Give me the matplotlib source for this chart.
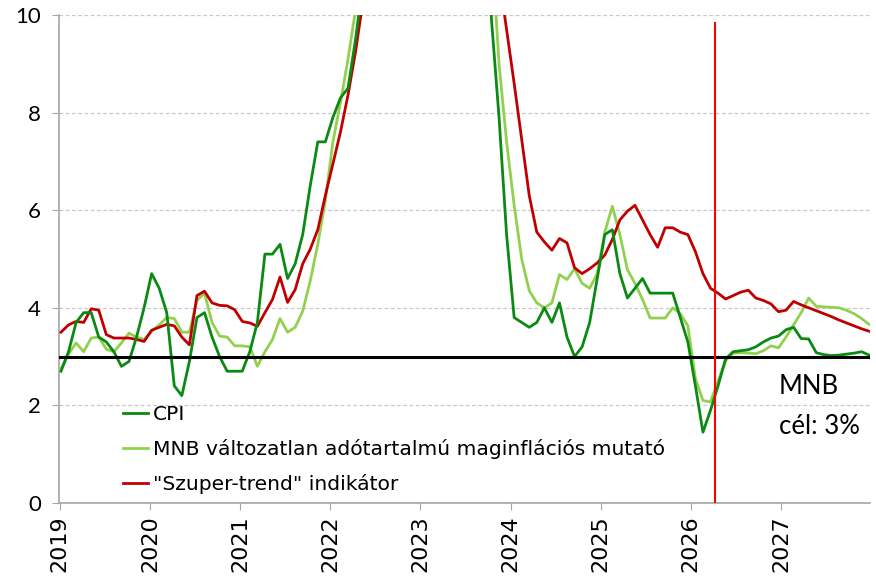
import matplotlib
matplotlib.use("Agg")
import matplotlib.pyplot as plt
import numpy as np

# Monthly data, Jan 2019 - Dec 2027 (yearly rows)
cpi = [
    2.7, 3.1, 3.7, 3.9, 3.9, 3.4, 3.3, 3.1, 2.8, 2.9, 3.4, 4.0,
    4.7, 4.4, 3.9, 2.4, 2.2, 2.9, 3.8, 3.9, 3.4, 3.0, 2.7, 2.7,
    2.7, 3.1, 3.7, 5.1, 5.1, 5.3, 4.6, 4.9, 5.5, 6.5, 7.4, 7.4,
    7.9, 8.3, 8.5, 9.5, 10.7, 11.7, 13.7, 15.6, 20.1, 21.1, 22.5, 24.5,
    25.7, 25.4, 25.2, 24.0, 21.5, 20.1, 17.6, 16.4, 12.2, 9.9, 7.9, 5.5,
    3.8, 3.7, 3.6, 3.7, 4.0, 3.7, 4.1, 3.4, 3.0, 3.2, 3.7, 4.6,
    5.5, 5.6, 4.7, 4.2, 4.4, 4.6, 4.3, 4.3, 4.3, 4.3, 3.8, 3.3,
    2.4, 1.45, 1.9, 2.4, 2.95, 3.1, 3.12, 3.14, 3.2, 3.3, 3.38, 3.42,
    3.55, 3.6, 3.37, 3.36, 3.08, 3.04, 3.02, 3.03, 3.05, 3.07, 3.1, 3.03,
]
core = [
    2.75, 3.05, 3.28, 3.1, 3.38, 3.4, 3.15, 3.1, 3.28, 3.48, 3.4, 3.35,
    3.52, 3.65, 3.8, 3.78, 3.5, 3.5, 4.15, 4.3, 3.7, 3.42, 3.4, 3.22,
    3.22, 3.2, 2.8, 3.1, 3.35, 3.78, 3.5, 3.6, 3.93, 4.55, 5.3, 6.2,
    7.4, 8.2, 9.1, 10.1, 11.2, 12.5, 14.0, 15.5, 17.5, 19.5, 21.5, 23.5,
    25.0, 25.5, 25.3, 24.5, 23.0, 21.5, 19.5, 17.0, 14.0, 11.5, 9.0, 7.4,
    6.1, 5.0, 4.35, 4.1, 4.0, 4.1, 4.68, 4.58, 4.8, 4.5, 4.4, 4.7,
    5.55, 6.08, 5.5, 4.78, 4.5, 4.17, 3.79, 3.79, 3.79, 4.0, 3.88, 3.63,
    2.55, 2.1, 2.07, 2.5, 2.92, 3.07, 3.08, 3.07, 3.06, 3.12, 3.22, 3.18,
    3.4, 3.65, 3.9, 4.2, 4.03, 4.02, 4.01, 4.0, 3.95, 3.88, 3.78, 3.66,
]
supertrend = [
    3.5, 3.65, 3.72, 3.7, 3.98, 3.95, 3.45, 3.38, 3.38, 3.38, 3.35, 3.31,
    3.54, 3.6, 3.66, 3.63, 3.4, 3.24, 4.25, 4.34, 4.1, 4.05, 4.04, 3.96,
    3.72, 3.69, 3.62, 3.9, 4.17, 4.63, 4.11, 4.37, 4.9, 5.2, 5.6, 6.3,
    6.95, 7.6, 8.36, 9.25, 10.3, 11.3, 12.4, 13.6, 14.8, 16.0, 17.2, 18.3,
    19.2, 19.8, 20.0, 19.8, 19.2, 18.2, 17.0, 15.5, 13.8, 12.0, 10.8, 9.7,
    8.6, 7.45, 6.3, 5.55, 5.35, 5.18, 5.42, 5.33, 4.82, 4.7, 4.8, 4.92,
    5.08, 5.4, 5.8, 5.98, 6.1, 5.8, 5.5, 5.24, 5.64, 5.64, 5.55, 5.5,
    5.15, 4.7, 4.4, 4.3, 4.18, 4.25, 4.32, 4.36, 4.2, 4.15, 4.08, 3.92,
    3.95, 4.13, 4.06, 4.0, 3.94, 3.88, 3.82, 3.75, 3.69, 3.63, 3.57, 3.52,
]
years = ["2019", "2020", "2021", "2022", "2023", "2024", "2025", "2026", "2027"]
labels = ["CPI", "MNB változatlan adótartalmú maginflációs mutató", "\"Szuper-trend\" indikátor"]
target = 3.0
forecast_month = 86.65  # vertical marker position (months from Jan 2019)
target_text = "MNB\ncél: 3%"

plt.rcParams['font.family'] = ['Lato', 'DejaVu Sans']

fig = plt.figure(figsize=(8.76, 5.79), dpi=100)
ax = fig.add_axes([0.0674, 0.1313, 0.9256, 0.8428])

months = np.arange(len(cpi))
ax.plot(months, cpi, color="#0A8A12", lw=2.0, label=labels[0], zorder=4)
ax.plot(months, core, color="#92D050", lw=2.0, label=labels[1], zorder=3)
ax.plot(months, supertrend, color="#C00000", lw=2.0, label=labels[2], zorder=3)

ax.axhline(target, color="black", lw=2.2, zorder=5)
ax.vlines(forecast_month, 0, 9.85, color="#FF0000", lw=1.5, zorder=6)

ax.set_ylim(0, 10)
ax.set_xlim(-0.26, 107.1)
ax.set_yticks([0, 2, 4, 6, 8, 10])
ax.yaxis.grid(True, color="#C8C8C8", lw=0.9, linestyle=(0, (3, 2)))
ax.set_axisbelow(True)

tick_pos = [-0.16 + 11.936 * k for k in range(len(years))]
ax.set_xticks(tick_pos)
ax.set_xticklabels(years, rotation=90, fontsize=16, family=['DejaVu Sans'])
ax.tick_params(axis='y', labelsize=16, length=5, color="#A6A6A6", pad=8)
ax.tick_params(axis='x', length=5, color="#A6A6A6", pad=4)

for s in ["top", "right"]:
    ax.spines[s].set_visible(False)
for s in ["left", "bottom"]:
    ax.spines[s].set_color("#A6A6A6")
    ax.spines[s].set_linewidth(1.2)

ax.text(0.888, 0.197, target_text, transform=ax.transAxes, fontsize=18.5,
        ha="left", va="center", linespacing=1.75)

leg = ax.legend(loc="lower left", bbox_to_anchor=(0.064, -0.006), frameon=False,
                prop={'family': ['DejaVu Sans'], 'size': 14.6},
                handlelength=1.25, handletextpad=0.2,
                labelspacing=0.74, borderaxespad=0.2)

fig.savefig("out.png", dpi=100)
